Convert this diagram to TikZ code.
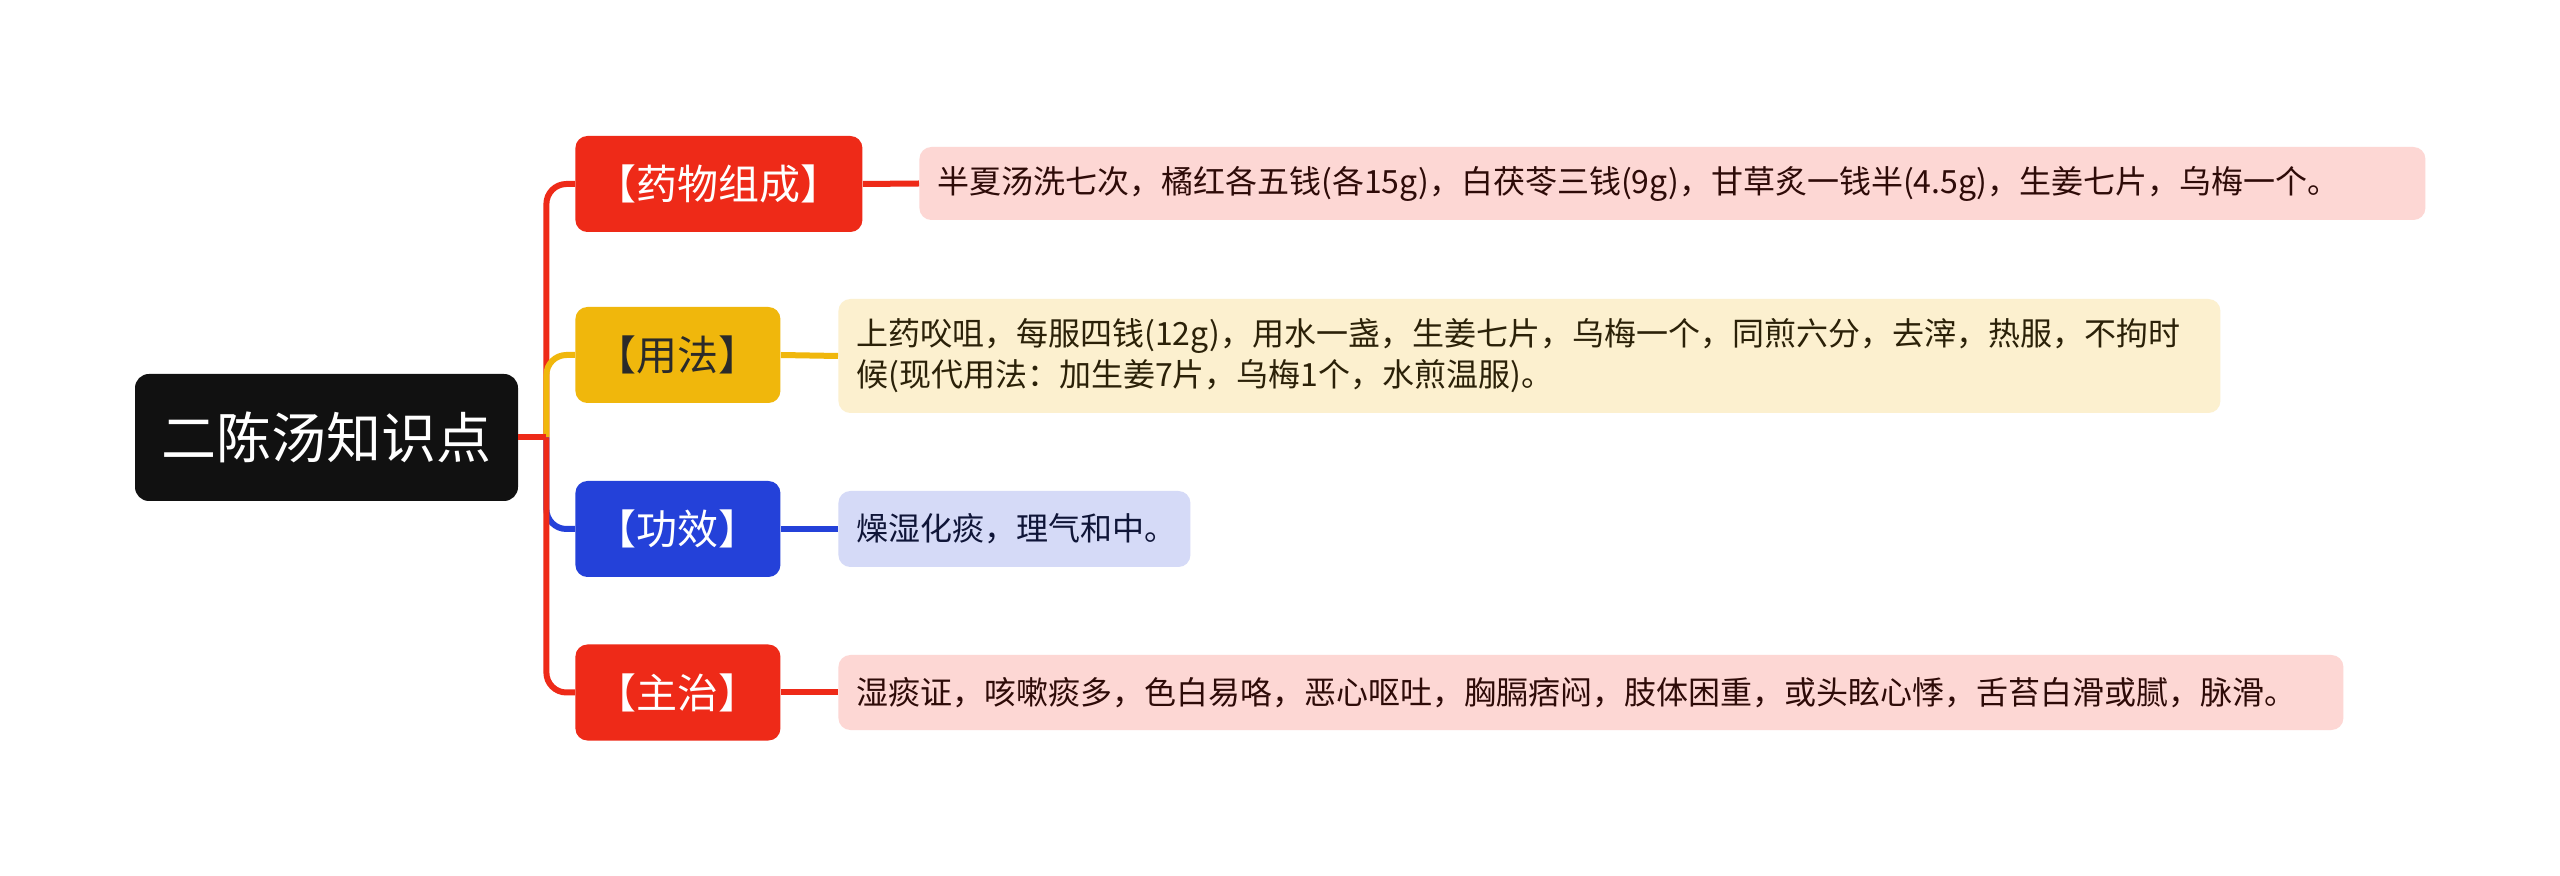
\documentclass[tikz,border=0pt]{standalone}
\usepackage{fontspec}
\setmainfont{Noto Sans CJK SC}
\usepackage{tikz}
\definecolor{rootblack}{HTML}{111111}
\definecolor{zhred}{HTML}{EE2A18}
\definecolor{zhyellow}{HTML}{F0B70C}
\definecolor{zhblue}{HTML}{2441D9}
\definecolor{pinkleaf}{HTML}{FDD7D4}
\definecolor{creamleaf}{HTML}{FCF0CF}
\definecolor{lavleaf}{HTML}{D5DAF7}
\definecolor{redtext}{HTML}{2E0B08}
\definecolor{browntext}{HTML}{2B2108}
\definecolor{navytext}{HTML}{0F1538}
\definecolor{darktext}{HTML}{2A2A2A}

\begin{document}
\begin{tikzpicture}[x=0.5pt,y=-0.5pt,
        rootbox/.style={fill=rootblack,text=white,rounded corners=7pt,minimum width=191.5pt,minimum height=63.5pt,inner sep=0pt,font=\fontsize{27.5pt}{32pt}\selectfont},
        topicbox/.style={fill=#1,rounded corners=6pt,minimum height=48pt,inner sep=0pt,anchor=west,font=\fontsize{20.5pt}{24pt}\selectfont},
        leafbox/.style={fill=#1,rounded corners=6pt,inner xsep=9pt,inner ysep=0pt,anchor=west,align=left,font=\fontsize{16pt}{20.5pt}\selectfont},
        link/.style={line width=3pt,draw=#1}]
        \fill[white] (0,0) rectangle (2560,876);
        \useasboundingbox (0,0) rectangle (2560,876);

        \node[rootbox] (root) at (326.5,437.5) {二陈汤知识点};
        \node[topicbox=zhred,text=white,minimum width=143.5pt] (zucheng) at (575,184) {【药物组成】};
        \node[topicbox=zhyellow,text=darktext,minimum width=102.5pt] (yongfa) at (575,355) {【用法】};
        \node[topicbox=zhblue,text=white,minimum width=102.5pt] (gongxiao) at (575,529) {【功效】};
        \node[topicbox=zhred,text=white,minimum width=102.5pt] (zhuzhi) at (575,692.5) {【主治】};

        \node[leafbox=pinkleaf,text=redtext,text width=735pt,minimum height=36.5pt] (zuchengtxt) at (919,183.5) {半夏汤洗七次，橘红各五钱(各15g)，白茯苓三钱(9g)，甘草炙一钱半(4.5g)，生姜七片，乌梅一个。};
        \node[leafbox=creamleaf,text=browntext,text width=673pt,minimum height=57pt] (yongfatxt) at (838,356) {上药㕮咀，每服四钱(12g)，用水一盏，生姜七片，乌梅一个，同煎六分，去滓，热服，不拘时\\候(现代用法：加生姜7片，乌梅1个，水煎温服)。};
        \node[leafbox=lavleaf,text=navytext,text width=158pt,minimum height=38pt] (gongxiaotxt) at (838,529) {燥湿化痰，理气和中。};
        \node[leafbox=pinkleaf,text=redtext,text width=734.5pt,minimum height=37.5pt] (zhuzhitxt) at (838,692.5) {湿痰证，咳嗽痰多，色白易咯，恶心呕吐，胸膈痞闷，肢体困重，或头眩心悸，舌苔白滑或腻，脉滑。};

        \coordinate (hub) at ([xshift=14pt]root.east);
        \draw[link=zhred,rounded corners=10pt] (hub) |- (zucheng.west);
        \draw[link=zhyellow,rounded corners=10pt] (hub) |- (yongfa.west);
        \draw[link=zhblue,rounded corners=10pt] (hub) |- (gongxiao.west);
        \draw[link=zhred,rounded corners=10pt] (hub) |- (zhuzhi.west);
        \draw[link=zhred] (root.east) -- (hub);

        \draw[link=zhred] (zucheng.east) -- (zuchengtxt.west);
        \draw[link=zhyellow] (yongfa.east) -- (yongfatxt.west);
        \draw[link=zhblue] (gongxiao.east) -- (gongxiaotxt.west);
        \draw[link=zhred] (zhuzhi.east) -- (zhuzhitxt.west);
    \end{tikzpicture}
\end{document}
